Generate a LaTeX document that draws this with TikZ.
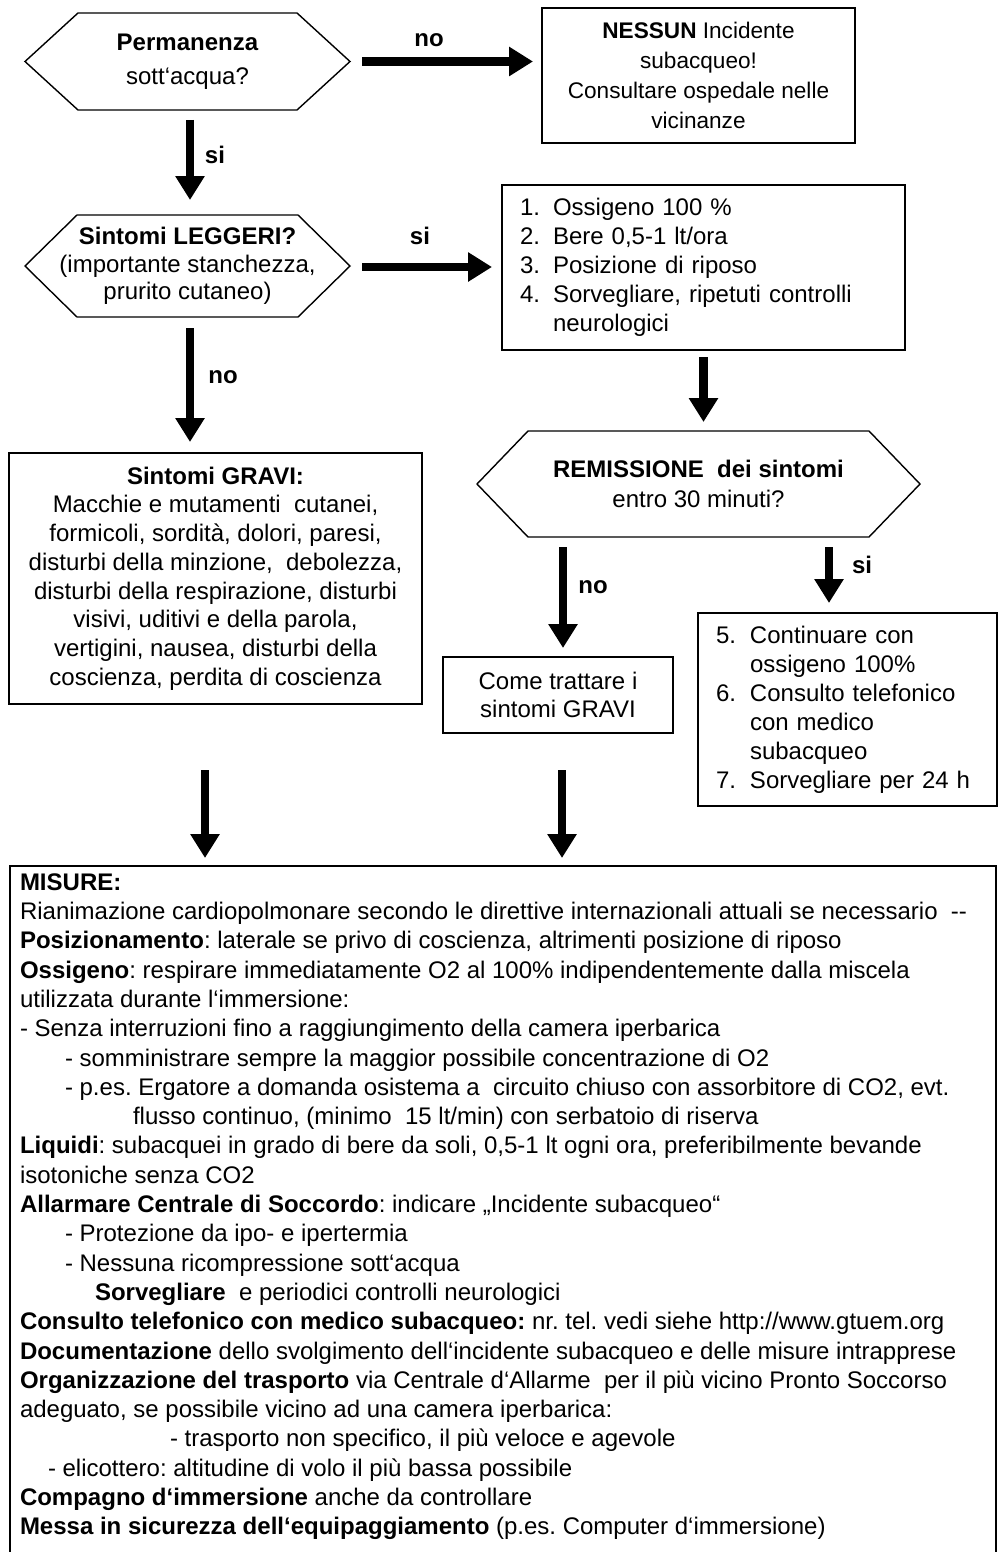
\documentclass[tikz,border=0pt]{standalone}
\usepackage{fontspec}
\setmainfont{Liberation Sans}
\usetikzlibrary{arrows.meta,calc}
\frenchspacing
\newcommand{\hexa}[2]{%
  \draw[hexline] (#1.west) -- ($(#1.north west)+(#2,0)$) -- ($(#1.north east)+(-#2,0)$)
    -- (#1.east) -- ($(#1.south east)+(-#2,0)$) -- ($(#1.south west)+(#2,0)$) -- cycle;}
\begin{document}
\begin{tikzpicture}[x=1pt,y=-1pt,
  box/.style={draw, line width=2pt, inner sep=0pt, outer sep=0pt},
  hexn/.style={inner sep=0pt, outer sep=0pt, align=center},
  hexline/.style={line width=1.4pt, line join=miter},
  bigarrow/.style={line width=8.5pt, -{Triangle[length=24pt,width=28pt]}},
  lbl/.style={font=\fontsize{24}{29}\selectfont\bfseries, inner sep=0pt}]
\useasboundingbox (0,0) rectangle (999,1552);
\clip (0,0) rectangle (999,1552);
\fill[white] (0,0) rectangle (999,1552);

% decision 1
\node[hexn, minimum width=325pt, minimum height=97pt, font=\fontsize{24}{34}\selectfont] (q1) at (187.5,61.5)
  {\textbf{Permanenza}\\sott‘acqua?};
\hexa{q1}{53}

\node[box, minimum width=313pt, minimum height=135pt, align=center, font=\fontsize{22.6}{30}\selectfont] (nessun) at (698.5,75.5)
  {\textbf{NESSUN} Incidente\\subacqueo!\\Consultare ospedale nelle\\vicinanze};

% decision 2
\node[hexn, minimum width=325pt, minimum height=102pt, font=\fontsize{24}{27.5}\selectfont] (q2) at (187.5,266)
  {\textbf{Sintomi LEGGERI?}\\(importante stanchezza,\\prurito cutaneo)};
\hexa{q2}{52}

\node[box, minimum width=403pt, minimum height=165pt, text width=367pt, inner xsep=18pt, align=left,
  font=\fontsize{24}{29}\selectfont] (b14) at (703.5,267.5)
  {\makebox[33pt][l]{1.}Ossigeno 100 \%\\
   \makebox[33pt][l]{2.}Bere 0,5-1 lt/ora\\
   \makebox[33pt][l]{3.}Posizione di riposo\\
   \makebox[33pt][l]{4.}Sorvegliare, ripetuti controlli\\
   \hspace*{33pt}neurologici};

\node[box, minimum width=413pt, minimum height=251pt, align=center, font=\fontsize{24}{28.7}\selectfont] (gravi) at (215.5,578.5)
  {\textbf{Sintomi GRAVI:}\\Macchie e mutamenti\ \ cutanei,\\formicoli, sordità, dolori, paresi,\\
   disturbi della minzione,\ \ debolezza,\\disturbi della respirazione, disturbi\\
   visivi, uditivi e della parola,\\vertigini, nausea, disturbi della\\coscienza, perdita di coscienza};

% decision 3
\node[hexn, minimum width=443pt, minimum height=106pt, font=\fontsize{24}{30}\selectfont] (q3) at (698.5,484)
  {\textbf{REMISSIONE\ \ dei sintomi}\\entro 30 minuti?};
\hexa{q3}{51}

\node[box, minimum width=230pt, minimum height=76pt, align=center, font=\fontsize{24}{28}\selectfont] (come) at (558,695)
  {Come trattare i\\sintomi GRAVI};

\node[box, minimum width=299pt, minimum height=193pt, text width=263pt, inner xsep=18pt, align=left,
  font=\fontsize{24}{29}\selectfont] (b57) at (847.5,709.5)
  {\makebox[34pt][l]{5.}Continuare con\\
   \hspace*{34pt}ossigeno 100\%\\
   \makebox[34pt][l]{6.}Consulto telefonico\\
   \hspace*{34pt}con medico\\
   \hspace*{34pt}subacqueo\\
   \makebox[34pt][l]{7.}Sorvegliare per 24 h};

% measures
\node[box, minimum width=986pt, minimum height=720pt] (misure) at (503,1226) {};
\node[inner sep=0pt, outer sep=0pt, anchor=north west, align=left, font=\fontsize{24}{29.3}\selectfont] (mtext) at (20,873.5)
  {\textbf{MISURE:}\\
   Rianimazione cardiopolmonare secondo le direttive internazionali attuali se necessario\ \ -{}-\\
   \textbf{Posizionamento}: laterale se privo di coscienza, altrimenti posizione di riposo\\
   \textbf{Ossigeno}: respirare immediatamente O2 al 100\% indipendentemente dalla miscela\\
   utilizzata durante l‘immersione:\\
   - Senza interruzioni fino a raggiungimento della camera iperbarica\\
   \hspace*{45pt}- somministrare sempre la maggior possibile concentrazione di O2\\
   \hspace*{45pt}- p.es. Ergatore a domanda osistema a\ \ circuito chiuso con assorbitore di CO2, evt.\\
   \hspace*{113pt}flusso continuo, (minimo\ \ 15 lt/min) con serbatoio di riserva\\
   \textbf{Liquidi}: subacquei in grado di bere da soli, 0,5-1 lt ogni ora, preferibilmente bevande\\
   isotoniche senza CO2\\
   \textbf{Allarmare Centrale di Soccordo}: indicare „Incidente subacqueo“\\
   \hspace*{45pt}- Protezione da ipo- e ipertermia\\
   \hspace*{45pt}- Nessuna ricompressione sott‘acqua\\
   \hspace*{75pt}\textbf{Sorvegliare}\ \ e periodici controlli neurologici\\
   \textbf{Consulto telefonico con medico subacqueo:} nr. tel. vedi siehe http://www.gtuem.org\\
   \textbf{Documentazione} dello svolgimento dell‘incidente subacqueo e delle misure intrapprese\\
   \textbf{Organizzazione del trasporto} via Centrale d‘Allarme\ \ per il più vicino Pronto Soccorso\\
   adeguato, se possibile vicino ad una camera iperbarica:\\
   \hspace*{150pt}- trasporto non specifico, il più veloce e agevole\\
   \hspace*{28pt}- elicottero: altitudine di volo il più bassa possibile\\
   \textbf{Compagno d‘immersione} anche da controllare\\
   \textbf{Messa in sicurezza dell‘equipaggiamento} (p.es. Computer d‘immersione)};

% connectors
\draw[bigarrow] ($(q1.east)+(12,0)$) -- ($(q1.east -| nessun.west)+(-9,0)$);
\node[lbl] (l1) at (429,40) {no};
\draw[bigarrow] ($(q1.south)+(2.5,10)$) -- ($(q2.north)+(2.5,-15)$);
\node[lbl] (l2) at (215,155) {si};
\draw[bigarrow] ($(q2.east)+(12,1)$) -- ($(q2.east -| b14.west)+(-10,1)$);
\node[lbl] (l3) at (420,236) {si};
\draw[bigarrow] ($(q2.south)+(2.5,11)$) -- ($(q2.south |- gravi.north)+(2.5,-11)$);
\node[lbl] (l4) at (223,377) {no};
\draw[bigarrow] ($(b14.south)+(0,7)$) -- ($(b14.south |- q3.north)+(0,-9)$);
\draw[bigarrow] ($(q3.south -| come.north)+(5,10)$) -- ($(come.north)+(5,-9)$);
\node[lbl] (l5) at (593,587) {no};
\draw[bigarrow] ($(q3.south)+(130.5,10)$) -- ($(q3.south |- b57.north)+(130.5,-10)$);
\node[lbl] (l6) at (862,565) {si};
\draw[bigarrow] ($(gravi.south)+(-10.5,66)$) -- ($(gravi.south |- misure.north)+(-10.5,-8)$);
\draw[bigarrow] ($(come.south)+(4,37)$) -- ($(come.south |- misure.north)+(4,-8)$);
\end{tikzpicture}
\end{document}
